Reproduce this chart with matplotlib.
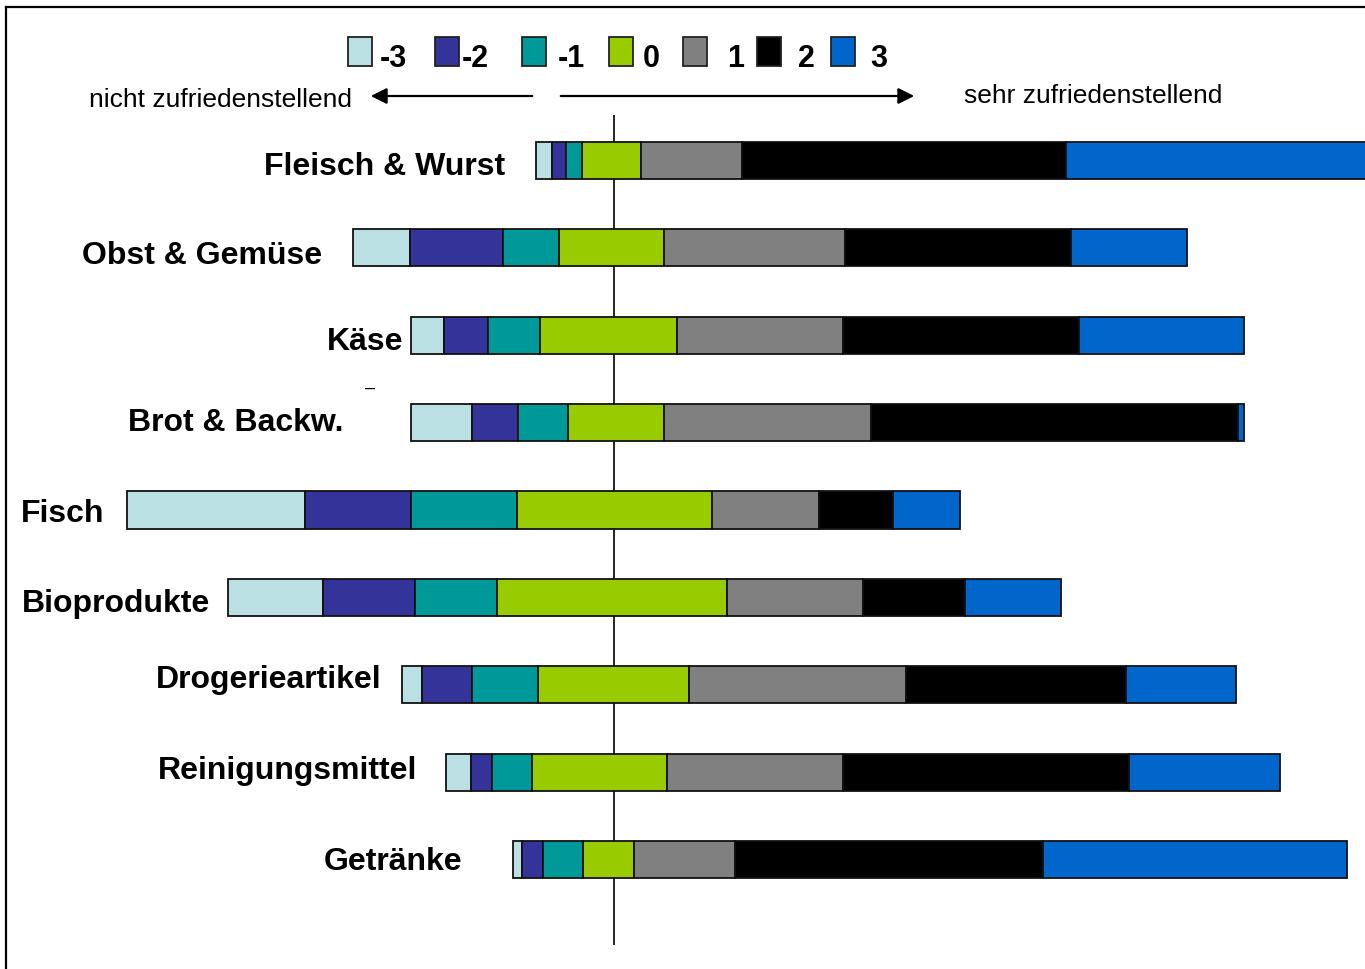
import matplotlib.pyplot as plt
from matplotlib.patches import Rectangle

plt.rcParams['font.family'] = ['Liberation Sans', 'DejaVu Sans']

# Kategorien (von oben nach unten)
kategorien = ['Fleisch & Wurst', 'Obst & Gemüse', 'Käse', 'Brot & Backw.', 'Fisch',
              'Bioprodukte', 'Drogerieartikel', 'Reinigungsmittel', 'Getränke']

# Anteile in % je Bewertungsstufe
stufen = ['-3', '-2', '-1', '0', '1', '2', '3']
w_m3 = [2.0, 6.8, 4.0, 7.3, 21.3, 11.4, 2.4, 3.0, 1.0]
w_m2 = [1.6, 11.2, 5.3, 5.6, 12.7, 11.0, 6.0, 2.5, 2.5]
w_m1 = [2.0, 6.7, 6.2, 6.0, 12.7, 9.8, 7.9, 4.8, 4.9]
w_0 = [7.0, 12.6, 16.4, 11.5, 23.4, 27.6, 18.1, 16.2, 6.0]
w_p1 = [12.2, 21.7, 19.9, 24.8, 12.9, 16.3, 26.1, 21.1, 12.2]
w_p2 = [38.8, 27.1, 28.3, 44.0, 8.8, 12.2, 26.3, 34.3, 36.9]
w_p3 = [36.3, 13.9, 19.8, 0.7, 8.0, 11.5, 13.2, 18.1, 36.5]

# unsichtbare Versatz-Reihe (Balkenanfang relativ zur Mittellinie, in %)
versatz = [-9.35, -31.2, -24.3, -24.3, -58.3, -46.2, -25.4, -20.1, -12.0]

farben = ['#BBE0E3', '#333399', '#009999', '#99CC00', '#808080', '#000000', '#0066CC']

# Layout (Pixel): Beschriftungen wurden im Original frei platziert
label_rechts = [505, 322, 403, 344, 104, 210, 382, 417, 462]
label_basis = [175, 264, 350, 431, 522, 612, 688, 779, 870]
leg_box_x = [348, 435, 522, 609, 683, 757, 831]
leg_text_x = [380, 462, 558, 643, 727, 798, 870]

W, H = 1365, 969
fig = plt.figure(figsize=(W / 100, H / 100), dpi=100)

# Balken-Achse: x in %, y in Zeilen
px_pro_prozent = 8.34
mitte_px = 613.5
zeile0_px = 160
zeilen_abstand = 87.5
ax = fig.add_axes([0, 0, 1, 1])
ax.set_xlim(-mitte_px / px_pro_prozent, (W - mitte_px) / px_pro_prozent)
ax.set_ylim((H - zeile0_px) / zeilen_abstand, -zeile0_px / zeilen_abstand)
ax.axis('off')

reihen = [w_m3, w_m2, w_m1, w_0, w_p1, w_p2, w_p3]
zeilen = list(range(len(kategorien)))
links = list(versatz)
for werte, farbe in zip(reihen, farben):
    ax.barh(zeilen, werte, left=links, height=37 / zeilen_abstand, color=farbe,
            edgecolor='#111111', linewidth=1.3, zorder=3)
    links = [l + w for l, w in zip(links, werte)]

# Mittellinie
ax.vlines(0, (115 - zeile0_px) / zeilen_abstand, (945 - zeile0_px) / zeilen_abstand,
          color='black', linewidth=1.2, zorder=1)

# Overlay in Pixelkoordinaten
ov = fig.add_axes([0, 0, 1, 1])
ov.set_xlim(0, W)
ov.set_ylim(H, 0)
ov.axis('off')
ov.patch.set_alpha(0)

# Rahmen
ov.plot([6, 6], [7, H], color='black', linewidth=1.6)
ov.plot([6, W], [7, 7], color='black', linewidth=1.6)

for name, xr, yb in zip(kategorien, label_rechts, label_basis):
    ov.text(xr, yb, name, ha='right', va='baseline', fontsize=23, fontweight='bold')

# Legende
for st, farbe, bx, tx in zip(stufen, farben, leg_box_x, leg_text_x):
    ov.add_patch(Rectangle((bx, 37), 24, 29, facecolor=farbe, edgecolor='#222222', linewidth=1.3))
    ov.text(tx, 67, st, ha='left', va='baseline', fontsize=22, fontweight='bold')

# Pfeile
ov.annotate('', xy=(368, 96), xytext=(535, 96),
            arrowprops=dict(arrowstyle='-|>', color='black', lw=1.6, mutation_scale=24))
ov.annotate('', xy=(917, 96), xytext=(558, 96),
            arrowprops=dict(arrowstyle='-|>', color='black', lw=1.6, mutation_scale=24))
ov.text(89, 107, 'nicht zufriedenstellend', ha='left', va='baseline', fontsize=19)
ov.text(964, 103, 'sehr zufriedenstellend', ha='left', va='baseline', fontsize=19)
ov.text(370, 388, '–', ha='center', va='center', fontsize=13)

fig.savefig('out.png', dpi=100)
